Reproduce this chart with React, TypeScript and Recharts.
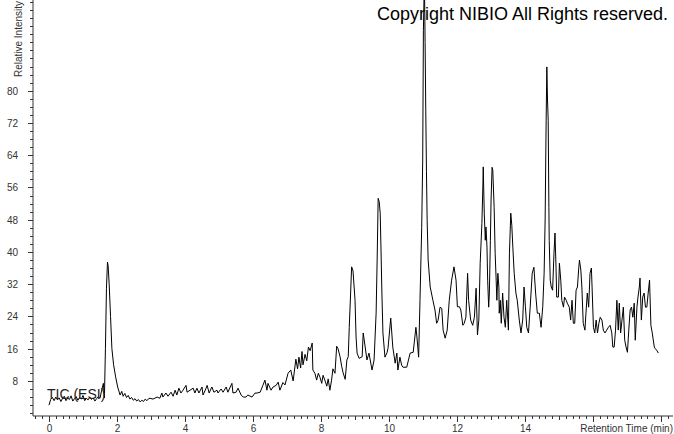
import { LineChart, Line, XAxis, YAxis } from "recharts";

// retention time (min) and relative intensity
const retentionTime = [
  // baseline
  0, 0.05, 0.1, 0.15, 0.2, 0.25, 0.3, 0.35, 0.4, 0.45,
  0.5, 0.55, 0.6, 0.65, 0.7, 0.75, 0.8, 0.85, 0.9, 0.95,
  1.0, 1.05, 1.1, 1.15, 1.2, 1.25, 1.3, 1.35, 1.4, 1.45,
  1.5,
  // first peak
  1.55, 1.6, 1.63, 1.66, 1.69, 1.72, 1.74, 1.77, 1.81, 1.85,
  1.9, 1.96, 2.02, 2.09, 2.14, 2.18, 2.23, 2.28, 2.33, 2.38,
  2.43, 2.48, 2.53, 2.58, 2.63, 2.68, 2.73, 2.78, 2.83, 2.88,
  2.93,
  // slow rise
  2.97, 3.06, 3.18, 3.26, 3.32, 3.35, 3.44, 3.5, 3.59, 3.65,
  3.71, 3.76, 3.82, 3.88, 3.94, 4.03, 4.06, 4.15, 4.24, 4.29,
  4.35, 4.41, 4.5, 4.53, 4.62, 4.65, 4.71, 4.79, 4.85, 4.94,
  4.97, 5.06, 5.12, 5.21, 5.26, 5.38, 5.41, 5.5, 5.56, 5.65,
  5.71, 5.79, 5.85, 5.97, 6.06, 6.12, 6.21, 6.29, 6.35, 6.41,
  6.44, 6.53, 6.59, 6.68, 6.74, 6.79,
  // 7 - 11 min
  6.88, 6.94, 7.03, 7.11, 7.18, 7.26, 7.31, 7.35, 7.4, 7.44,
  7.47, 7.53, 7.58, 7.63, 7.68, 7.74, 7.76, 7.82, 7.87, 7.92,
  7.97, 8.02, 8.06, 8.12, 8.17, 8.21, 8.26, 8.31, 8.35, 8.41,
  8.46, 8.5, 8.56, 8.61, 8.65, 8.71, 8.76, 8.8, 8.83, 8.87,
  8.9, 8.94, 9.0, 9.03, 9.06, 9.12, 9.21, 9.24, 9.29, 9.35,
  9.41, 9.5, 9.56, 9.62, 9.65, 9.68, 9.71, 9.74, 9.76, 9.79,
  9.82, 9.88, 9.94, 9.97, 10.05, 10.11, 10.18, 10.23, 10.26, 10.32,
  10.37, 10.41, 10.52, 10.62, 10.71, 10.79, 10.82, 10.87, 10.91,
  // 11 - 13 min
  10.96, 10.99, 11.01, 11.04, 11.06, 11.08, 11.1, 11.12, 11.15, 11.21,
  11.29, 11.35, 11.4, 11.44, 11.5, 11.55, 11.59, 11.65, 11.71, 11.77,
  11.84, 11.91, 11.97, 12.01, 12.07, 12.11, 12.17, 12.21, 12.26, 12.31,
  12.34, 12.4, 12.46, 12.51, 12.56, 12.6, 12.64, 12.68, 12.73, 12.76,
  12.77, 12.8, 12.83, 12.85, 12.88, 12.9, 12.93, 12.95, 12.98,
  // 13 - 15 min
  13.0, 13.03, 13.05, 13.09, 13.12, 13.15, 13.17, 13.2, 13.23, 13.24,
  13.27, 13.3, 13.34, 13.38, 13.42, 13.46, 13.51, 13.54, 13.58, 13.61,
  13.64, 13.68, 13.73, 13.77, 13.83, 13.88, 13.93, 13.97, 14.01, 14.05,
  14.1, 14.15, 14.21, 14.26, 14.31, 14.36, 14.42, 14.47, 14.52, 14.56,
  14.59, 14.62, 14.64, 14.66, 14.68, 14.7, 14.71, 14.74, 14.77, 14.81,
  14.85, 14.88, 14.91, 14.93, 14.98,
  // 15 - 18 min
  15.01, 15.05, 15.08, 15.13, 15.16, 15.21, 15.24, 15.3, 15.34, 15.38,
  15.42, 15.46, 15.5, 15.54, 15.58, 15.6, 15.64, 15.67, 15.71, 15.76,
  15.79, 15.83, 15.87, 15.91, 15.95, 15.97, 16.01, 16.05, 16.09, 16.13,
  16.17, 16.21, 16.26, 16.3, 16.35, 16.4, 16.45, 16.5, 16.55, 16.58,
  16.62, 16.66, 16.7, 16.74, 16.77, 16.81, 16.85, 16.89, 16.93, 16.97,
  17.01, 17.05, 17.09, 17.13, 17.17, 17.21, 17.24, 17.29, 17.32, 17.36,
  17.38, 17.42, 17.46, 17.5, 17.54, 17.58, 17.62, 17.66, 17.7, 17.74,
  17.8, 17.82, 17.87, 17.92,
];

const relIntensity = [
  2.0, 3.4, 3.9, 3.1, 4.0, 3.3, 3.8, 2.9, 3.7, 4.2,
  3.1, 3.8, 3.4, 4.3, 3.0, 3.6, 4.1, 3.2, 3.9, 3.5,
  4.4, 3.1, 3.7, 3.3, 4.0, 3.4, 3.8, 3.0, 3.6, 4.1,
  3.7,
  5.7, 7.4, 3.8, 16, 31, 37.5, 36.5, 32, 24, 16,
  12, 9, 6.5, 4.5, 5.4, 4.2, 4.9, 3.9, 4.4, 3.5,
  3.9, 3.2, 3.6, 3.0, 3.4, 2.8, 3.2, 2.9, 3.5, 3.1,
  3.6,
  3.7, 3.5, 4.0, 3.7, 5.0, 4.0, 5.0, 4.2, 5.2, 4.2,
  5.7, 4.5, 6.2, 5.0, 5.7, 6.9, 5.2, 5.7, 6.2, 5.0,
  6.2, 5.0, 6.5, 4.5, 6.2, 6.9, 5.0, 6.5, 5.2, 5.7,
  5.0, 6.0, 5.2, 6.5, 5.2, 7.4, 5.0, 5.2, 6.2, 4.5,
  4.0, 4.0, 4.5, 4.0, 5.0, 5.0, 5.2, 6.9, 8.2, 5.7,
  7.4, 5.7, 6.5, 6.9, 7.7, 5.7,
  7.6, 7.0, 9.9, 10.7, 8.0, 13.4, 11.0, 13.9, 11.2, 15.3,
  12.0, 14.6, 13.0, 16.4, 15.5, 17.4, 10.7, 9.9, 8.2, 9.9,
  8.9, 7.4, 9.4, 8.0, 6.7, 8.5, 5.7, 8.2, 11.0, 9.9,
  16.6, 16.0, 14.0, 11.5, 10.0, 8.4, 13.2, 14.0, 21.3, 29.8,
  36.3, 35.3, 28, 18.9, 14.9, 13.6, 14.0, 19.9, 16.9, 13.2,
  14.9, 10.7, 13.2, 24.8, 38, 53.3, 52.5, 49.6, 42, 29.8,
  19.9, 13.9, 15.0, 16.1, 23.6, 16.4, 12.4, 14.9, 10.7, 13.9,
  11.9, 11.4, 11.4, 14.9, 15.1, 21.3, 18.9, 13.9, 28,
  46, 62.8, 95, 108, 92, 75, 60, 48, 38, 31.3,
  28, 25.6, 22.3, 23.0, 26.3, 26.0, 20.6, 18.6, 20.6, 28,
  33, 36.3, 33, 26.4, 26.4, 25.6, 21.8, 22.3, 23.8, 34.7,
  28, 23.1, 21.8, 23.8, 31, 19.4, 23.1, 37.2, 47, 56.6,
  61.1, 49.6, 42.9, 46.2, 41.2, 33, 26.3, 29.8, 42.9,
  52.9, 61, 60.3, 51.1, 39.7, 33, 28, 34.7, 31.3, 24.8,
  28, 22.3, 29.8, 23.8, 21.3, 28, 20.6, 39.7, 49.6, 46.6,
  41.2, 34.7, 29.8, 28, 23.1, 19.9, 23.1, 31.3, 26.4, 21.3,
  19.9, 26.3, 34.7, 36.2, 29.8, 24.8, 24.8, 21.3, 26.4, 34.7,
  47.9, 72.7, 85.9, 77.7, 72.7, 51.1, 42.9, 33, 31.3, 30.5,
  39.7, 44.7, 36.2, 28.8, 28.8,
  37.2, 33, 28, 26.3, 28.8, 28, 27.3, 26.3, 23.1, 28,
  22.3, 22.3, 30.5, 31.3, 36.2, 38, 35.5, 31.3, 22.3, 20.6,
  24.8, 29.8, 26.3, 34.7, 36, 31.3, 21.3, 19.9, 23.1, 19.9,
  22.3, 23.8, 23.1, 20.6, 19.9, 20.6, 21.3, 21.8, 19.9, 16.4,
  16.4, 20.6, 28, 20.6, 27.3, 19.9, 23.1, 26.3, 18.1, 16.4,
  15.1, 20.6, 25.6, 26.3, 23.8, 27.3, 18.1, 26.3, 28.8, 31.3,
  33.5, 23.1, 28.8, 29.8, 26.3, 26.3, 29.8, 33, 21.8, 19.9,
  16.4, 16.1, 15.6, 14.9,
];

// labelled ticks (16 and 18 sit under the axis title in the original)
const xLabelTicks = [0, 2, 4, 6, 8, 10, 12, 14];
const yLabelTicks = [8, 16, 24, 32, 40, 48, 56, 64, 72, 80];

// minor tick positions every 0.2 min / 2 units
const xTicks = Array.from({ length: 94 }, (_, i) => Math.round((i - 2) * 2) / 10);
const yTicks = Array.from({ length: 52 }, (_, i) => i * 2);

const data = retentionTime.map((t, i) => ({ t, v: relIntensity[i] }));

const font = "'Liberation Sans', Arial, sans-serif";
const axisColor = "#333";

const XTick = (props: any) => {
  const { x, y, payload } = props;
  const v = payload.value;
  const px = Math.round(x) + 0.5;
  const isLabel = xLabelTicks.some((l) => Math.abs(l - v) < 1e-6);
  const isInt = Math.abs(v - Math.round(v)) < 1e-6;
  const isEven = isInt && Math.round(v) % 2 === 0;
  const len = isEven ? 6 : isInt ? 4 : 3;
  return (
    <g>
      <line x1={px} x2={px} y1={y} y2={y + len} stroke={axisColor} />
      {isLabel && (
        <text x={px} y={y + 16} textAnchor="middle" fontSize={10} fontFamily={font} fill={axisColor}>
          {Math.round(v)}
        </text>
      )}
    </g>
  );
};

const YTick = (props: any) => {
  const { x, y, payload } = props;
  const v = payload.value;
  const py = Math.round(y) + 0.5;
  const isLabel = yLabelTicks.includes(v);
  const len = isLabel ? 5 : 3;
  return (
    <g>
      <line x1={x - len} x2={x} y1={py} y2={py} stroke={axisColor} />
      {isLabel && (
        <text x={x - 15} y={py} dy="0.35em" textAnchor="end" fontSize={10} fontFamily={font} fill={axisColor}>
          {v}
        </text>
      )}
    </g>
  );
};

export default function App() {
  return (
    <div style={{ position: "absolute", left: 0, top: 0, width: 674, height: 434, background: "#fff" }}>
      <LineChart width={674} height={434} data={data} margin={{ top: 0, right: 1, bottom: 0, left: 0 }}>
        <XAxis
          dataKey="t"
          type="number"
          domain={[-0.47, 18.35]}
          allowDataOverflow
          ticks={xTicks}
          interval={0}
          tick={<XTick />}
          tickLine={false}
          tickSize={0}
          tickMargin={0}
          height={18}
          stroke={axisColor}
        />
        <YAxis
          type="number"
          domain={[-0.7, 102.5]}
          allowDataOverflow
          ticks={yTicks}
          interval={0}
          tick={<YTick />}
          tickLine={false}
          tickSize={0}
          tickMargin={0}
          width={33}
          stroke={axisColor}
        />
        <Line
          dataKey="v"
          type="linear"
          stroke="#000"
          strokeWidth={1}
          dot={false}
          isAnimationActive={false}
        />
      </LineChart>
      <svg
        width={674}
        height={434}
        style={{ position: "absolute", left: 0, top: 0, pointerEvents: "none" }}
      >
        <text x={377} y={20} fontSize={18} fontFamily={font} fill="#000">
          Copyright NIBIO All Rights reserved.
        </text>
        <text x={47} y={399} fontSize={14} fontFamily={font} fill="#222">
          TIC (ESI)
        </text>
        <text
          x={22}
          y={39}
          fontSize={10}
          fontFamily={font}
          fill={axisColor}
          textAnchor="middle"
          transform="rotate(-90, 22, 39)"
        >
          Relative Intensity
        </text>
        <text x={673} y={432} fontSize={10} fontFamily={font} fill={axisColor} textAnchor="end">
          Retention Time (min)
        </text>
      </svg>
    </div>
  );
}
